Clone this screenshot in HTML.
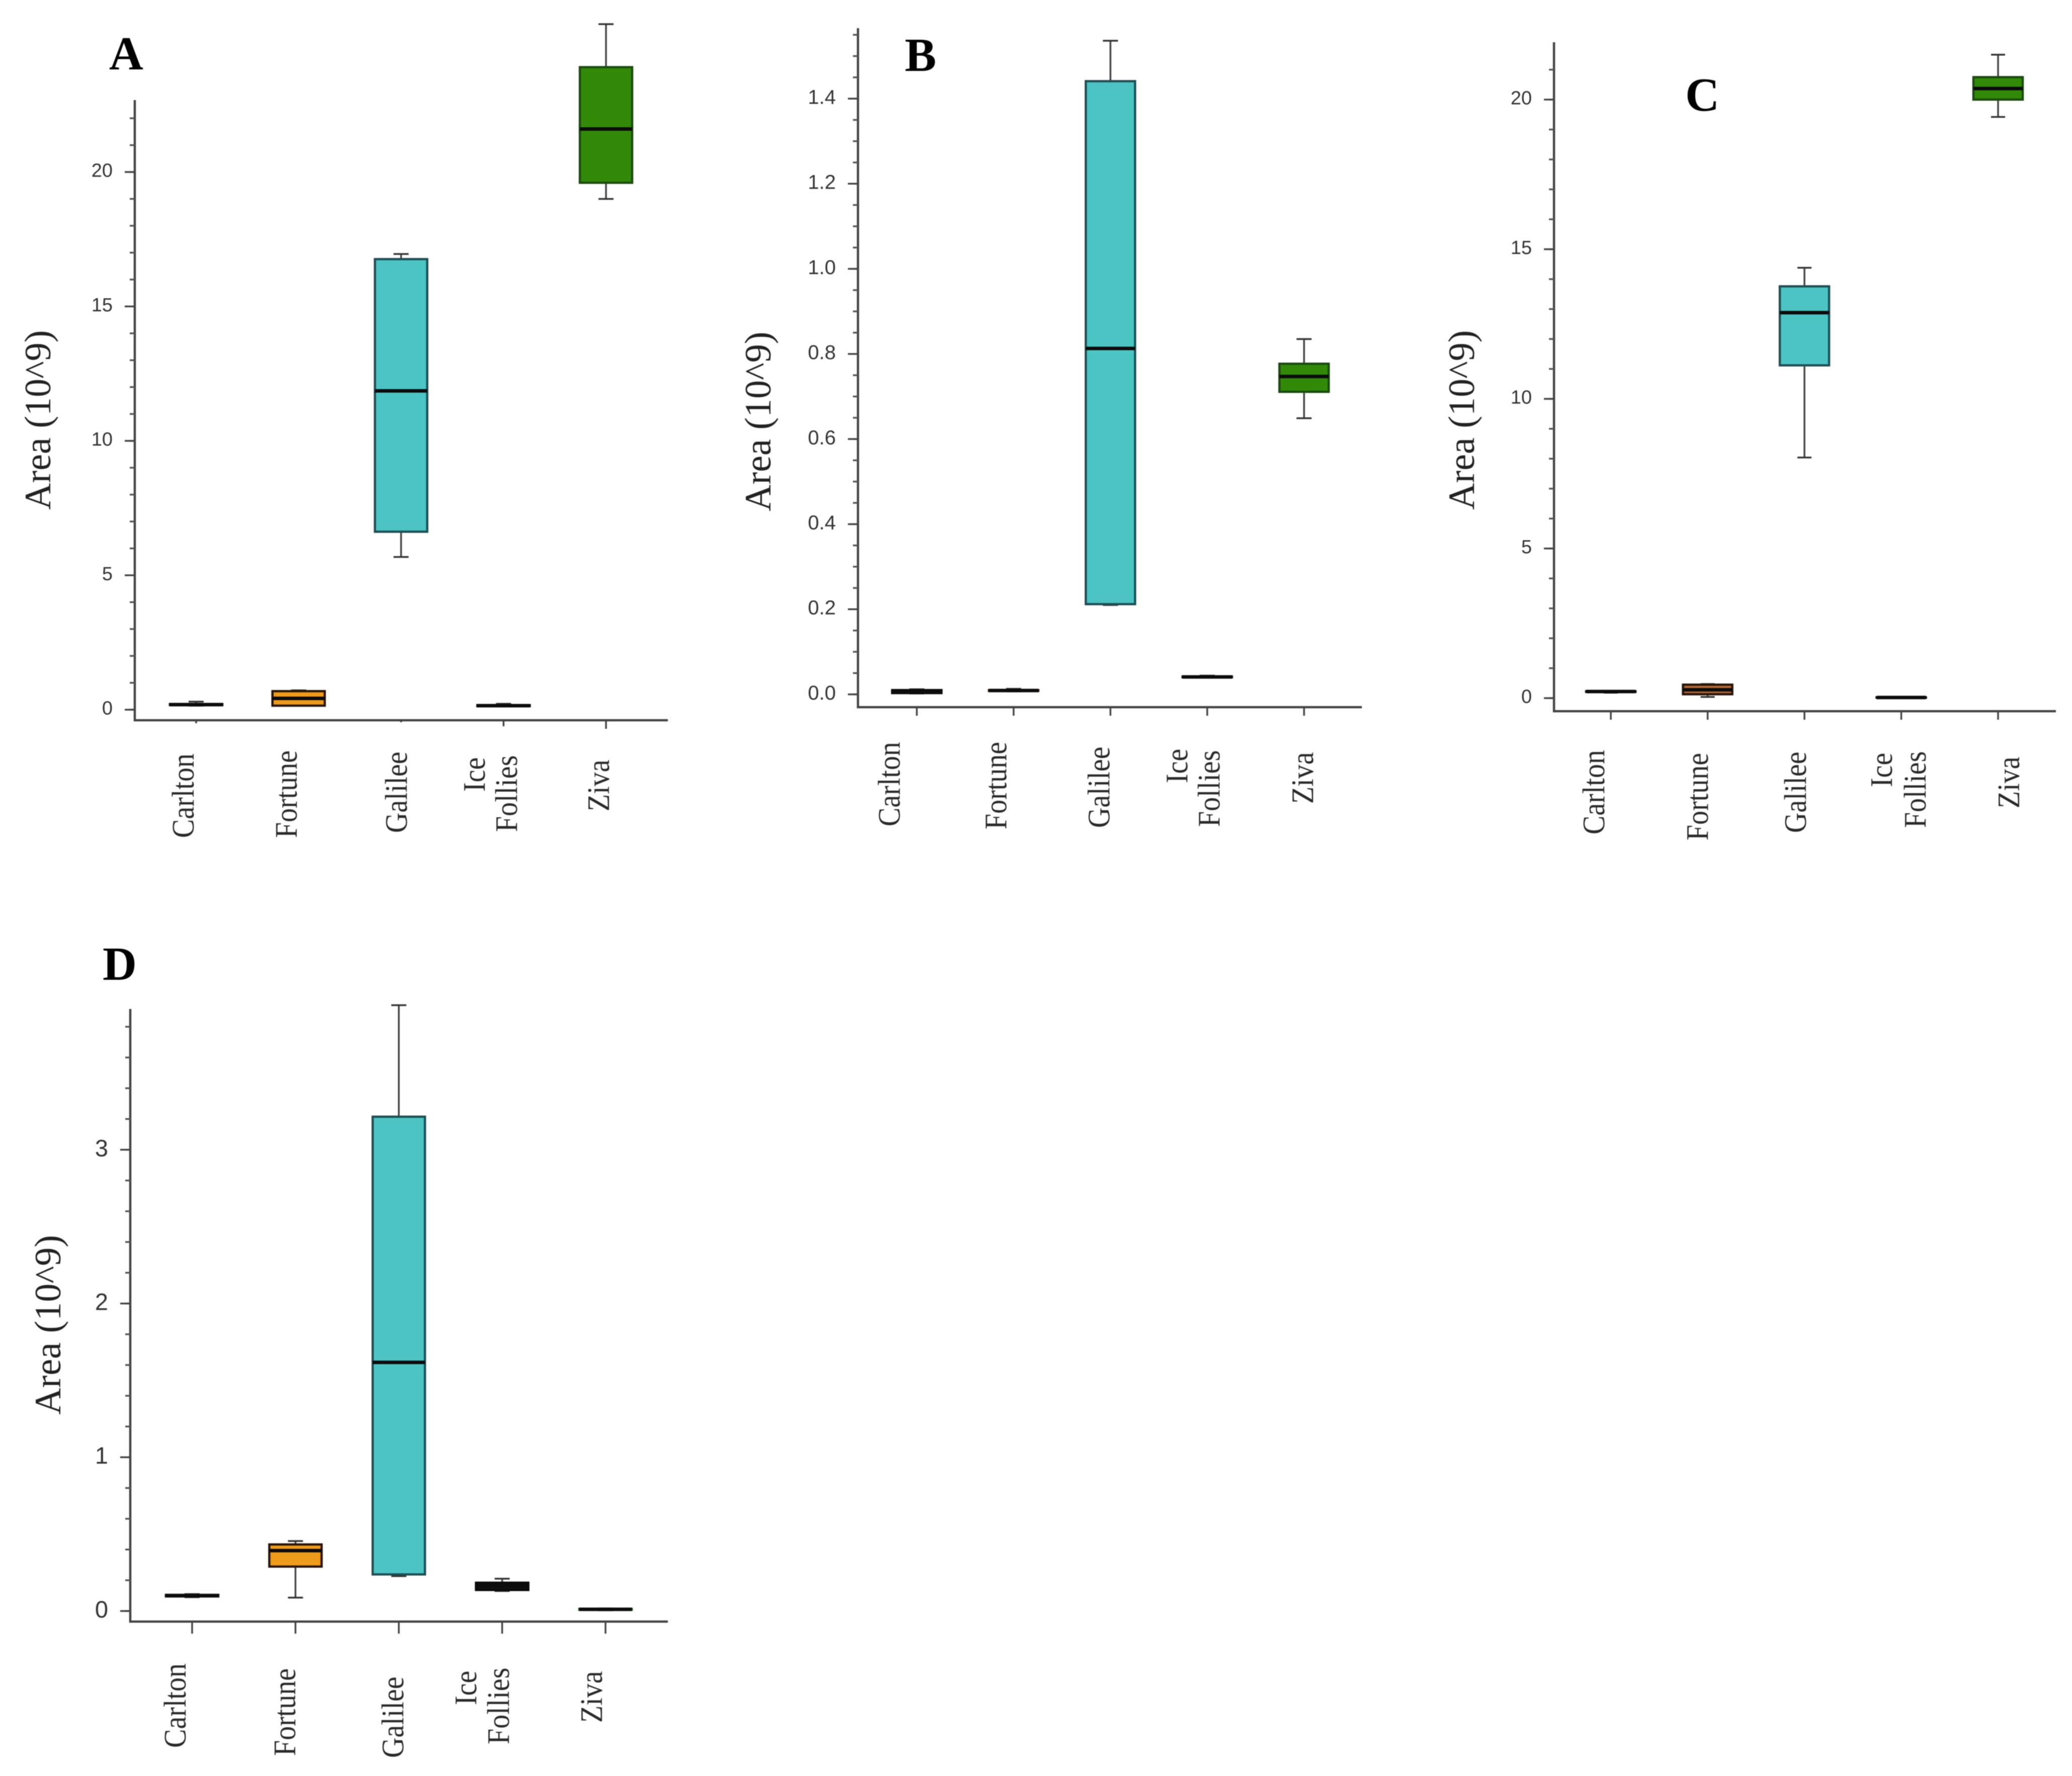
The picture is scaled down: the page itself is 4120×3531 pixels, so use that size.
<!DOCTYPE html>
<html lang="en">
<head>
<meta charset="utf-8">
<title>Area box plots by cultivar</title>
<style>
html,body{margin:0;padding:0;background:#fff;width:4120px;height:3531px;overflow:hidden}
svg{display:block;filter:blur(0.9px)}
.cat{font-family:"Liberation Serif",serif;font-size:56px;fill:#2a2a2a}
.ytitle{font-family:"Liberation Serif",serif;font-size:74px;fill:#222}
.letter{font-family:"Liberation Serif",serif;font-size:94px;font-weight:bold;fill:#000}
.tick{font-family:"Liberation Sans",sans-serif;fill:#333;text-anchor:end}
</style>
</head>
<body>
<svg id="figure" xmlns="http://www.w3.org/2000/svg" width="4120" height="3531" viewBox="0 0 4120 3531">
  <rect x="0" y="0" width="4120" height="3531" fill="#fff"/>

  <text class="letter" x="217" y="138">A</text>
  <text class="letter" x="1799" y="141">B</text>
  <text class="letter" x="3351" y="220">C</text>
  <text class="letter" x="204" y="1948">D</text>

  <text class="ytitle" text-anchor="middle" transform="translate(100 835) rotate(-90)">Area (10^9)</text>
  <text class="ytitle" text-anchor="middle" transform="translate(1532 838) rotate(-90)">Area (10^9)</text>
  <text class="ytitle" text-anchor="middle" transform="translate(2931 835) rotate(-90)">Area (10^9)</text>
  <text class="ytitle" text-anchor="middle" transform="translate(120 2634) rotate(-90)">Area (10^9)</text>

  <g>
    <text class="cat" transform="translate(385 1666) rotate(-90) scale(1 1.12)">Carlton</text>
    <text class="cat" transform="translate(590 1666) rotate(-90) scale(1 1.12)">Fortune</text>
    <text class="cat" transform="translate(809 1656) rotate(-90) scale(1 1.12)">Galilee</text>
    <text class="cat" transform="translate(964 1574) rotate(-90) scale(1 1.12)">Ice</text>
    <text class="cat" transform="translate(1028 1654) rotate(-90) scale(1 1.12)">Follies</text>
    <text class="cat" transform="translate(1211 1613) rotate(-90) scale(1 1.12)">Ziva</text>
  </g>
  <g>
    <text class="cat" transform="translate(1789 1643) rotate(-90) scale(1 1.12)">Carlton</text>
    <text class="cat" transform="translate(2001 1649) rotate(-90) scale(1 1.12)">Fortune</text>
    <text class="cat" transform="translate(2206 1646) rotate(-90) scale(1 1.12)">Galilee</text>
    <text class="cat" transform="translate(2361 1557) rotate(-90) scale(1 1.12)">Ice</text>
    <text class="cat" transform="translate(2425 1644) rotate(-90) scale(1 1.12)">Follies</text>
    <text class="cat" transform="translate(2611 1598) rotate(-90) scale(1 1.12)">Ziva</text>
  </g>
  <g>
    <text class="cat" transform="translate(3190 1659) rotate(-90) scale(1 1.12)">Carlton</text>
    <text class="cat" transform="translate(3396 1671) rotate(-90) scale(1 1.12)">Fortune</text>
    <text class="cat" transform="translate(3591 1656) rotate(-90) scale(1 1.12)">Galilee</text>
    <text class="cat" transform="translate(3762 1565) rotate(-90) scale(1 1.12)">Ice</text>
    <text class="cat" transform="translate(3829 1646) rotate(-90) scale(1 1.12)">Follies</text>
    <text class="cat" transform="translate(4015 1607) rotate(-90) scale(1 1.12)">Ziva</text>
  </g>
  <g>
    <text class="cat" transform="translate(369 3475) rotate(-90) scale(1 1.12)">Carlton</text>
    <text class="cat" transform="translate(587 3491) rotate(-90) scale(1 1.12)">Fortune</text>
    <text class="cat" transform="translate(802 3495) rotate(-90) scale(1 1.12)">Galilee</text>
    <text class="cat" transform="translate(947 3390) rotate(-90) scale(1 1.12)">Ice</text>
    <text class="cat" transform="translate(1012 3468) rotate(-90) scale(1 1.12)">Follies</text>
    <text class="cat" transform="translate(1197 3425) rotate(-90) scale(1 1.12)">Ziva</text>
  </g>
</svg>

<script>
const categories = ['Carlton', 'Fortune', 'Galilee', 'Ice Follies', 'Ziva'];

const aLow    = [0.15, 0.15, 5.68, 0.12, 19.0];
const aQ1     = [0.17, 0.15, 6.62, 0.13, 19.6];
const aMedian = [0.19, 0.42, 11.86, 0.15, 21.6];
const aQ3     = [0.21, 0.69, 16.76, 0.17, 23.9];
const aHigh   = [0.30, 0.72, 16.95, 0.22, 25.5];
const aTickValues = [0, 5, 10, 15, 20];
const aTickLabels = ['0', '5', '10', '15', '20'];

const bLow    = [0.002, 0.007, 0.21, 0.040, 0.649];
const bQ1     = [0.003, 0.008, 0.212, 0.040, 0.711];
const bMedian = [0.0066, 0.009, 0.813, 0.041, 0.747];
const bQ3     = [0.010, 0.010, 1.441, 0.042, 0.777];
const bHigh   = [0.012, 0.013, 1.536, 0.044, 0.835];
const bTickValues = [0, 0.2, 0.4, 0.6, 0.8, 1.0, 1.2, 1.4];
const bTickLabels = ['0.0', '0.2', '0.4', '0.6', '0.8', '1.0', '1.2', '1.4'];

const cLow    = [0.18, 0.04, 8.04, 0.01, 19.42];
const cQ1     = [0.21, 0.13, 11.12, 0.015, 20.0];
const cMedian = [0.22, 0.28, 12.88, 0.02, 20.37];
const cQ3     = [0.23, 0.45, 13.76, 0.025, 20.75];
const cHigh   = [0.24, 0.47, 14.38, 0.03, 21.5];
const cTickValues = [0, 5, 10, 15, 20];
const cTickLabels = ['0', '5', '10', '15', '20'];

const dLow    = [0.09, 0.087, 0.227, 0.13, 0.005];
const dQ1     = [0.095, 0.289, 0.238, 0.137, 0.008];
const dMedian = [0.10, 0.393, 1.617, 0.162, 0.011];
const dQ3     = [0.105, 0.433, 3.215, 0.184, 0.014];
const dHigh   = [0.11, 0.455, 3.94, 0.21, 0.017];
const dTickValues = [0, 1, 2, 3];
const dTickLabels = ['0', '1', '2', '3'];

const fillColors = ['#111111', '#ee9a1a', '#4cc4c4', '#111111', '#328a08'];

const panels = [
  {id: 'a', low: aLow, q1: aQ1, med: aMedian, q3: aQ3, high: aHigh, ticks: aTickValues, labels: aTickLabels,
   axisX: 268, axisTop: 199, axisBottom: 1432, axisRight: 1328, y0: 1411, pxPerUnit: 53.45, minorStep: 1, minorMax: 22,
   firstCat: 390, lastCat: 1205, halfBox: 52, capHalf: 15, tickFont: 38, xTick: [6, 0, 4, 12, 17], fortune: '#ee9a1a'},
  {id: 'b', low: bLow, q1: bQ1, med: bMedian, q3: bQ3, high: bHigh, ticks: bTickValues, labels: bTickLabels,
   axisX: 1706, axisTop: 56, axisBottom: 1406, axisRight: 2708, y0: 1380.5, pxPerUnit: 846, minorStep: 0.05, minorMax: 1.55,
   firstCat: 1823, lastCat: 2593, halfBox: 49, capHalf: 15, tickFont: 40, xTick: [17, 17, 17, 17, 17], fortune: '#ee9a1a'},
  {id: 'c', low: cLow, q1: cQ1, med: cMedian, q3: cQ3, high: cHigh, ticks: cTickValues, labels: cTickLabels,
   axisX: 3090, axisTop: 84, axisBottom: 1414, axisRight: 4088, y0: 1388, pxPerUnit: 59.5, minorStep: 1, minorMax: 21,
   firstCat: 3203, lastCat: 3973, halfBox: 49, capHalf: 14, tickFont: 38, xTick: [17, 17, 17, 17, 17], fortune: '#b5673a'},
  {id: 'd', low: dLow, q1: dQ1, med: dMedian, q3: dQ3, high: dHigh, ticks: dTickValues, labels: dTickLabels,
   axisX: 259, axisTop: 2006, axisBottom: 3224, axisRight: 1328, y0: 3203, pxPerUnit: 305.7, minorStep: 0.2, minorMax: 3.8,
   firstCat: 382, lastCat: 1204, halfBox: 52, capHalf: 15, tickFont: 47, xTick: [24, 24, 24, 24, 24], fortune: '#ee9a1a'}
];

const SVG_NS = 'http://www.w3.org/2000/svg';
const root = document.getElementById('figure');

function lineEl(parent, x1, y1, x2, y2, stroke, width) {
  const l = document.createElementNS(SVG_NS, 'line');
  l.setAttribute('x1', x1);
  l.setAttribute('y1', y1);
  l.setAttribute('x2', x2);
  l.setAttribute('y2', y2);
  l.setAttribute('stroke', stroke);
  l.setAttribute('stroke-width', width);
  parent.appendChild(l);
  return l;
}

function drawPanel(p) {
  const yScale = function (v) { return p.y0 - v * p.pxPerUnit; };
  const xScale = function (i) { return p.firstCat + i * (p.lastCat - p.firstCat) / (categories.length - 1); };

  const g = document.createElementNS(SVG_NS, 'g');
  
  
  root.appendChild(g);

  const yAxis = lineEl(g, p.axisX, p.axisTop, p.axisX, p.axisBottom + 2, '#444', 4.5);
  
  

  const xAxis = lineEl(g, p.axisX - 2, p.axisBottom, p.axisRight, p.axisBottom, '#444', 4.5);
  
  

  const minorCount = Math.round(p.minorMax / p.minorStep);
  for (let k = 0; k <= minorCount; k++) {
    const mt = lineEl(g, p.axisX - 10, yScale(k * p.minorStep), p.axisX, yScale(k * p.minorStep), '#555', 3.5);
    
    
  }

  p.ticks.forEach(function (v, i) {
    const t = lineEl(g, p.axisX - 20, yScale(v), p.axisX, yScale(v), '#444', 3.5);
    
    

    const lab = document.createElementNS(SVG_NS, 'text');
    lab.setAttribute('class', 'tick');
    lab.setAttribute('x', p.axisX - 44);
    lab.setAttribute('y', yScale(v) + p.tickFont * 0.36 - 4);
    lab.setAttribute('font-size', p.tickFont);
    
    
    lab.textContent = p.labels[i];
    g.appendChild(lab);
  });

  categories.forEach(function (cat, i) {
    const cx = xScale(i);
    const slug = cat.toLowerCase().replace(' ', '-');

    if (p.xTick[i] > 0) {
      const xt = lineEl(g, cx, p.axisBottom, cx, p.axisBottom + p.xTick[i], '#444', 3.5);
      
      
    }

    const box = document.createElementNS(SVG_NS, 'g');
    
    
    g.appendChild(box);

    const stem = lineEl(box, cx, yScale(p.low[i]), cx, yScale(p.high[i]), '#444', 3.5);
    
    

    const capHigh = lineEl(box, cx - p.capHalf, yScale(p.high[i]), cx + p.capHalf, yScale(p.high[i]), '#333', 3.5);
    
    

    const capLow = lineEl(box, cx - p.capHalf, yScale(p.low[i]), cx + p.capHalf, yScale(p.low[i]), '#333', 3.5);
    
    

    const r = document.createElementNS(SVG_NS, 'rect');
    r.setAttribute('x', cx - p.halfBox);
    r.setAttribute('y', yScale(p.q3[i]));
    r.setAttribute('width', p.halfBox * 2);
    r.setAttribute('height', Math.max(0, yScale(p.q1[i]) - yScale(p.q3[i])));
    r.setAttribute('fill', i === 1 ? p.fortune : fillColors[i]);
    r.setAttribute('stroke', i === 4 ? '#1d4a10' : (i === 1 ? '#2a1608' : (i === 2 ? '#1f4f55' : '#0a0a0a')));
    r.setAttribute('stroke-width', 4.5);
    
    
    box.appendChild(r);

    const m = lineEl(box, cx - p.halfBox, yScale(p.med[i]), cx + p.halfBox, yScale(p.med[i]), '#0c0c0c', 7);
    
    
  });
}

panels.forEach(drawPanel);
</script>
</body>
</html>
